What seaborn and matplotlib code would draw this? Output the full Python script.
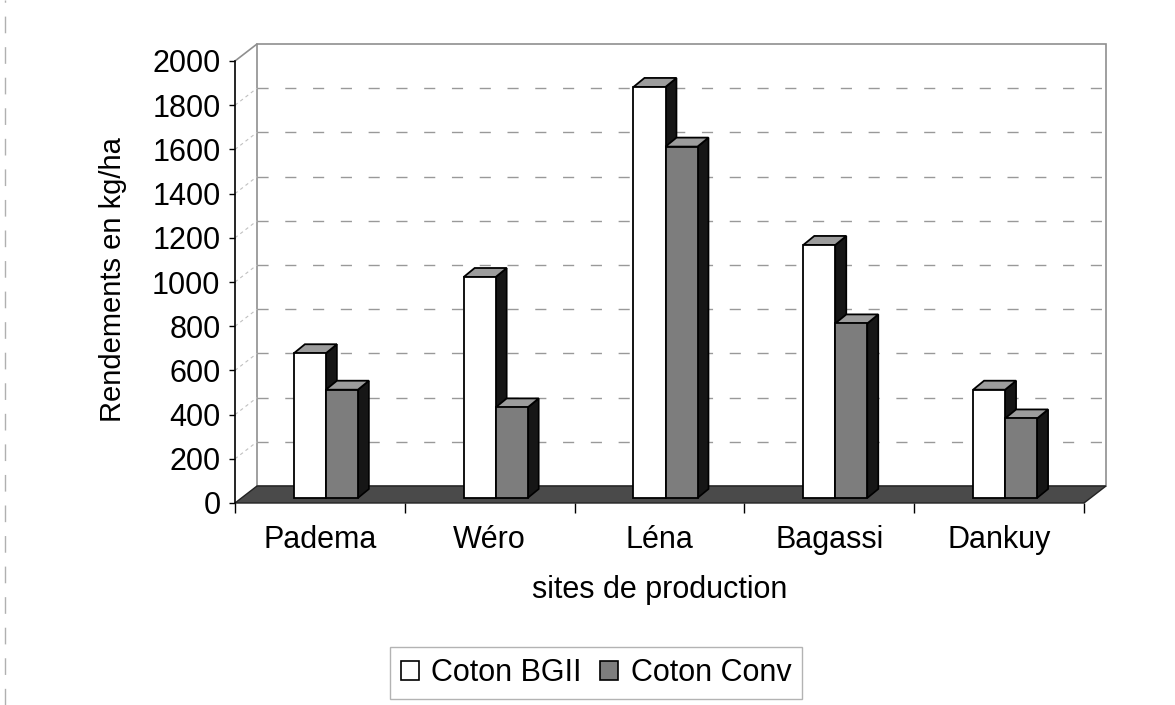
import numpy as np
import pandas as pd
import matplotlib
matplotlib.use("Agg")
import matplotlib.pyplot as plt
import seaborn as sns
from matplotlib.patches import Polygon, Patch
from matplotlib.lines import Line2D

# Données (rendements en kg/ha)
sites = ["Padema", "Wéro", "Léna", "Bagassi", "Dankuy"]
coton_bgii = [655, 1000, 1860, 1145, 490]
coton_conv = [490, 410, 1590, 790, 360]
series = ["Coton BGII", "Coton Conv"]
y_ticks = list(range(0, 2001, 200))

df = pd.DataFrame({
    "site": sites * 2,
    "rendement": coton_bgii + coton_conv,
    "variete": [series[0]] * len(sites) + [series[1]] * len(sites),
})

# Style
sns.set_theme(style="white")
plt.rcParams["font.family"] = ["Liberation Sans", "DejaVu Sans"]
plt.rcParams["text.color"] = "black"
plt.rcParams["axes.labelcolor"] = "black"
plt.rcParams["xtick.color"] = "black"
plt.rcParams["ytick.color"] = "black"
FS = 22
FS_LAB = 21
GRIS_CONV = "#7d7d7d"
GRIS_TOP = "#9c9c9c"
NOIR_COTE = "#161616"
GRIS_SOL = "#4a4a4a"
GRIS_MUR = "#8f8f8f"

fig = plt.figure(figsize=(11.75, 7.05), dpi=100)
ax = fig.add_axes([235 / 1175, 1 - 503 / 705, 849 / 1175, 442 / 705])

sns.barplot(data=df, x="site", y="rendement", hue="variete",
            palette=["white", GRIS_CONV], width=0.377, saturation=1,
            edgecolor="black", linewidth=1.3, legend=False, ax=ax)
bars = sorted(ax.patches, key=lambda p: p.get_x())

ax.set_xlim(-0.5, len(sites) - 0.5)
ax.set_ylim(0, 2000)
ax.patch.set_visible(False)

# conversion pixels -> unités de données (pour l'effet 3D)
bbox = ax.get_position()
ax_w = bbox.width * fig.get_figwidth() * fig.dpi
ax_h = bbox.height * fig.get_figheight() * fig.dpi
ux = (ax.get_xlim()[1] - ax.get_xlim()[0]) / ax_w
uy = (ax.get_ylim()[1] - ax.get_ylim()[0]) / ax_h

WX, WY = 22 * ux, 17 * uy    # profondeur du mur du fond
BX, BY = 6 * ux, 5 * uy      # position des faces avant des barres
DX, DY = 11 * ux, 9 * uy     # profondeur des barres

x0, x1 = ax.get_xlim()
ymax = ax.get_ylim()[1]

# mur du fond
ax.add_patch(Polygon([(x0 + WX, WY), (x1 + WX, WY), (x1 + WX, ymax + WY), (x0 + WX, ymax + WY)],
                     closed=True, facecolor="white", edgecolor=GRIS_MUR, lw=1.2,
                     clip_on=False, zorder=0.5))
# arête supérieure du mur gauche
ax.add_line(Line2D([x0, x0 + WX], [ymax, ymax + WY], color=GRIS_MUR, lw=1.2,
                   clip_on=False, zorder=0.6))
# quadrillage (mur du fond + mur gauche)
for t in y_ticks[1:-1]:
    ax.add_line(Line2D([x0 + WX, x1 + WX], [t + WY, t + WY], color="#999999", lw=1,
                       dashes=(8, 12), clip_on=False, zorder=0.7))
    ax.add_line(Line2D([x0, x0 + WX], [t, t + WY], color="#c0c0c0", lw=0.8,
                       dashes=(3, 3), clip_on=False, zorder=0.7))

# plancher
ax.add_patch(Polygon([(x0, 0), (x1, 0), (x1 + WX, WY), (x0 + WX, WY)], closed=True,
                     facecolor=GRIS_SOL, edgecolor="#222222", lw=1,
                     clip_on=False, zorder=1))

# barres en pseudo-3D : côté, dessus, face avant
for k, p in enumerate(bars):
    xb = p.get_x() + BX
    w = p.get_width()
    h = p.get_height()
    p.set_x(xb)
    p.set_y(BY)
    p.set_clip_on(False)
    base = 2 + k * 0.5
    cote = Polygon([(xb + w, BY), (xb + w + DX, BY + DY), (xb + w + DX, BY + h + DY), (xb + w, BY + h)],
                   closed=True, facecolor=NOIR_COTE, edgecolor="black", lw=1.2,
                   clip_on=False, zorder=base)
    dessus = Polygon([(xb, BY + h), (xb + w, BY + h), (xb + w + DX, BY + h + DY), (xb + DX, BY + h + DY)],
                     closed=True, facecolor=GRIS_TOP, edgecolor="black", lw=1.3,
                     clip_on=False, zorder=base + 0.1)
    ax.add_patch(cote)
    ax.add_patch(dessus)
    p.set_zorder(base + 0.2)

# axes
for s in ["top", "right", "bottom"]:
    ax.spines[s].set_visible(False)
ax.spines["left"].set_color("black")
ax.spines["left"].set_linewidth(1.2)
ax.spines["left"].set_zorder(1.5)

ax.set_yticks(y_ticks)
ax.set_yticklabels([str(t) for t in y_ticks])
ax.tick_params(axis="y", which="both", left=True, length=4.5, width=1, color="black",
               labelsize=FS, pad=6)
ax.set_xticks(range(len(sites)))
ax.set_xticklabels(sites)
ax.set_xticks(np.arange(len(sites) + 1) - 0.5, minor=True)
ax.tick_params(axis="x", which="major", bottom=True, length=0, labelsize=FS, pad=16)
ax.tick_params(axis="x", which="minor", bottom=True, length=7, width=1, color="black")

ax.set_xlabel("sites de production", fontsize=FS, va="center")
ax.xaxis.set_label_coords(0.5, -(590 - 503) / 442)
ax.set_ylabel("Rendements en kg/ha", fontsize=FS_LAB, va="center", ha="center")
ax.yaxis.set_label_coords(-(235 - 113) / 849, (503 - 280) / 442)

# légende
handles = [Patch(facecolor="white", edgecolor="black", lw=1.2, label=series[0]),
           Patch(facecolor=GRIS_CONV, edgecolor="black", lw=1.2, label=series[1])]
leg = fig.legend(handles=handles, loc="center", bbox_to_anchor=(596 / 1175, 1 - 673 / 705),
                 ncol=2, fontsize=FS, frameon=True, fancybox=False, edgecolor="#a0a0a0",
                 handlelength=0.6, handleheight=0.6, handletextpad=0.4,
                 columnspacing=0.6, borderpad=0.35, borderaxespad=0)
leg.get_frame().set_linewidth(1)

# bordure de la zone du graphique (à peine visible sur le scan)
fig.add_artist(Line2D([5 / 1175, 5 / 1175], [0, 1], transform=fig.transFigure,
                      color="#b0b0b0", lw=1, dashes=(12, 10)))

fig.savefig("out.png", dpi=100)
